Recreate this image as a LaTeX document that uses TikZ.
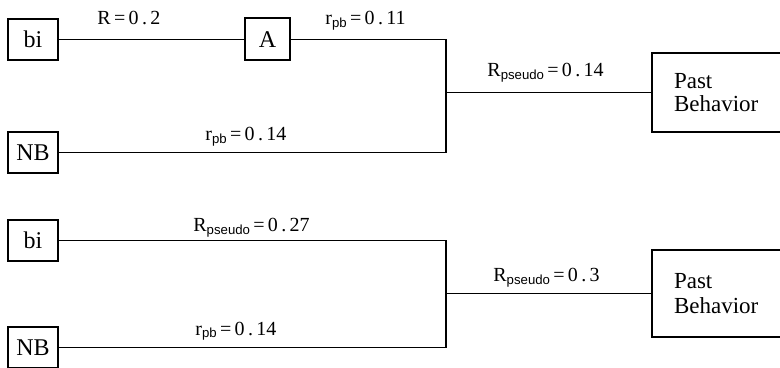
\documentclass[tikz,border=0pt]{standalone}
\usepackage{fontspec}
\setmainfont{Liberation Serif}
\setsansfont{Liberation Sans}
% small lowered index used in the coefficient labels
\newcommand\idx[1]{\raisebox{-1.3pt}{\fontsize{6.6}{7}\sffamily #1}}
\begin{document}
\begin{tikzpicture}[x=0.5pt,y=-0.5pt,
  box/.style={draw, line width=1pt, inner sep=0pt, font=\fontsize{12}{13}\selectfont},
  var/.style={box, minimum width=25pt, minimum height=20.5pt},
  outcome/.style={box, anchor=west, minimum width=75pt, inner xsep=11pt,
    text width=53pt, align=left, font=\fontsize{11.5}{11.5}\selectfont},
  link/.style={line width=0.55pt},
  coef/.style={anchor=base west, inner sep=0pt, font=\fontsize{10}{11}\selectfont}]
\clip (0,0) rectangle (780,368);

% ---- upper model: bi -> A -> Past Behavior, NB -> Past Behavior
\node[var] (bi1) at (33,39.5) {bi};
\node[var, minimum width=22.5pt, minimum height=21pt] (A) at (267.5,39.5) {A};
\node[var] (nb1) at (33,152.5) {NB};
\node[outcome, minimum height=39.5pt] (pb1) at (651,92.5) {Past\\Behavior};
\coordinate (j1) at (446,92.5);

\draw[link] (bi1) -- (A);
\draw[link] (A) -| (j1) |- (nb1);
\draw[link] (j1) -- (pb1);

\node[coef] (c1) at (97,25) {R\,=\,0\,.\,2};
\node[coef] (c2) at (325,25) {r\idx{pb}\,=\,0\,.\,11};
\node[coef] (c3) at (205,141) {r\idx{pb}\,=\,0\,.\,14};
\node[coef] (c4) at (487,77) {R\idx{pseudo}\,=\,0\,.\,14};

% ---- lower model: bi and NB -> Past Behavior
\node[var] (bi2) at (33,240.5) {bi};
\node[var] (nb2) at (33,347.5) {NB};
\node[outcome, minimum height=43.5pt, font=\fontsize{11.5}{12.5}\selectfont] (pb2) at (651,293.5) {Past\\Behavior};
\coordinate (j2) at (446,293.5);

\draw[link] (bi2) -| (j2) |- (nb2);
\draw[link] (j2) -- (pb2);

\node[coef] (c5) at (193,232) {R\idx{pseudo}\,=\,0\,.\,27};
\node[coef] (c6) at (195,335) {r\idx{pb}\,=\,0\,.\,14};
\node[coef] (c7) at (493,282) {R\idx{pseudo}\,=\,0\,.\,3};
\end{tikzpicture}
\end{document}
